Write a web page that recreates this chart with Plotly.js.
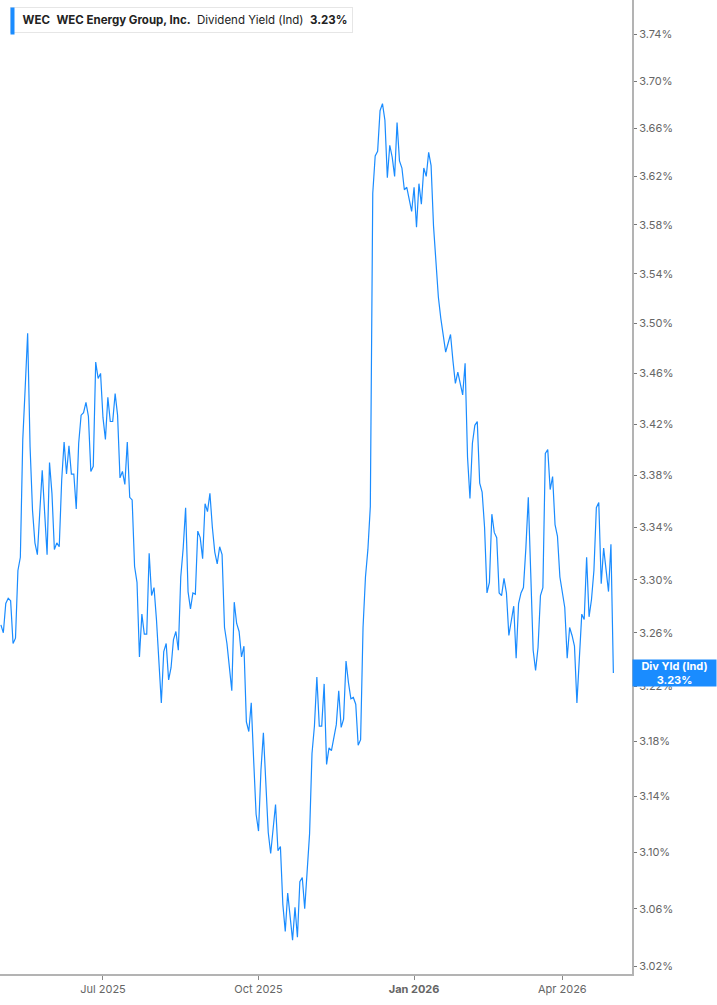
<!DOCTYPE html>
<html>
<head>
<meta charset="utf-8">
<script src="https://cdn.plot.ly/plotly-3.0.1.min.js"></script>
<style>
  html, body { margin: 0; padding: 0; background: #ffffff; }
  #chart { width: 717px; height: 1005px; }
</style>
</head>
<body>
<div id="chart"></div>
<script>
  // WEC dividend yield (indicated), one value per trading day, starting at startDate
  var startDate = "2025-04-30";
  var holidays = [
    "2025-05-26", "2025-06-19", "2025-07-04", "2025-09-01", "2025-11-27",
    "2025-12-25", "2026-01-01", "2026-01-19", "2026-02-16", "2026-04-03"
  ];
  var yieldValues = [
    3.266, 3.260, 3.282, 3.286, 3.284, 3.252, 3.256, 3.307, 3.317, 3.408,
    3.449, 3.492, 3.402, 3.353, 3.328, 3.319, 3.352, 3.384, 3.351, 3.319,
    3.390, 3.366, 3.323, 3.328, 3.325, 3.376, 3.406, 3.381, 3.403, 3.381,
    3.381, 3.354, 3.405, 3.427, 3.429, 3.437, 3.426, 3.383, 3.387, 3.469,
    3.456, 3.460, 3.425, 3.408, 3.441, 3.422, 3.422, 3.444, 3.427, 3.378,
    3.383, 3.373, 3.406, 3.363, 3.361, 3.310, 3.298, 3.242, 3.274, 3.259,
    3.259, 3.320, 3.288, 3.294, 3.270, 3.235, 3.208, 3.246, 3.252, 3.225,
    3.234, 3.255, 3.261, 3.247, 3.302, 3.324, 3.355, 3.291, 3.278, 3.290,
    3.289, 3.337, 3.332, 3.316, 3.358, 3.352, 3.366, 3.340, 3.321, 3.312,
    3.325, 3.319, 3.264, 3.252, 3.235, 3.217, 3.283, 3.267, 3.261, 3.242,
    3.250, 3.194, 3.187, 3.208, 3.166, 3.127, 3.115, 3.159, 3.186, 3.152,
    3.114, 3.099, 3.117, 3.134, 3.101, 3.104, 3.063, 3.044, 3.071, 3.054,
    3.038, 3.061, 3.040, 3.079, 3.082, 3.060, 3.089, 3.113, 3.171, 3.191,
    3.227, 3.191, 3.191, 3.222, 3.163, 3.175, 3.173, 3.183, 3.192, 3.217,
    3.190, 3.196, 3.239, 3.223, 3.211, 3.212, 3.207, 3.177, 3.181, 3.264,
    3.302, 3.323, 3.356, 3.606, 3.637, 3.641, 3.675, 3.681, 3.667, 3.619,
    3.646, 3.636, 3.620, 3.665, 3.633, 3.627, 3.609, 3.611, 3.602, 3.591,
    3.611, 3.578, 3.614, 3.597, 3.627, 3.620, 3.640, 3.629, 3.579, 3.545,
    3.521, 3.504, 3.488, 3.477, 3.484, 3.491, 3.470, 3.452, 3.461, 3.453,
    3.443, 3.468, 3.394, 3.362, 3.405, 3.419, 3.422, 3.374, 3.367, 3.340,
    3.290, 3.298, 3.350, 3.336, 3.332, 3.290, 3.288, 3.301, 3.290, 3.258,
    3.268, 3.280, 3.241, 3.282, 3.290, 3.294, 3.324, 3.363, 3.305, 3.247,
    3.232, 3.249, 3.288, 3.294, 3.397, 3.400, 3.369, 3.379, 3.342, 3.333,
    3.302, 3.291, 3.279, 3.241, 3.264, 3.258, 3.250, 3.208, 3.245, 3.274,
    3.270, 3.317, 3.272, 3.285, 3.307, 3.355, 3.359, 3.297, 3.324, 3.308,
    3.291, 3.327, 3.230
  ];
  var xTickDates = ["2025-07-01", "2025-10-01", "2026-01-02", "2026-04-01"];
  var xTickLabels = ["Jul 2025", "Oct 2025", "<b>Jan 2026</b>", "Apr 2026"];
  var yTickValues = [3.02, 3.06, 3.10, 3.14, 3.18, 3.22, 3.26, 3.30, 3.34,
                     3.38, 3.42, 3.46, 3.50, 3.54, 3.58, 3.62, 3.66, 3.70, 3.74];

  var LINE_BLUE = "#1a8cff";

  // trading days (weekdays that are not market holidays)
  function tradingDays(start, count, skip) {
    var out = [];
    var d = new Date(start + "T00:00:00Z");
    while (out.length < count) {
      var iso = d.toISOString().slice(0, 10);
      var dow = d.getUTCDay();
      if (dow !== 0 && dow !== 6 && skip.indexOf(iso) === -1) out.push(iso);
      d.setUTCDate(d.getUTCDate() + 1);
    }
    return out;
  }

  var dates = tradingDays(startDate, yieldValues.length, holidays);
  var lastValue = yieldValues[yieldValues.length - 1];
  var lastText = lastValue.toFixed(2) + "%";

  var trace = {
    type: "scatter",
    mode: "lines",
    x: dates,
    y: yieldValues,
    line: { color: LINE_BLUE, width: 1.2 },
    hoverinfo: "skip"
  };

  var NB = "\u00a0";
  var headerText = NB + NB + "<b>WEC</b>" + NB + NB + "<b>WEC Energy Group, Inc.</b>" +
    NB + NB + "Dividend Yield (Ind)" + NB + NB + "<b>" + lastText + "</b>";

  // plot area is 632 x 974 px
  var PW = 632, PH = 974;

  var layout = {
    width: 717,
    height: 1005,
    margin: { l: 0, r: 85, t: 0, b: 31 },
    paper_bgcolor: "#ffffff",
    plot_bgcolor: "#ffffff",
    font: { family: "Inter, Roboto, 'Open Sans', sans-serif", color: "#555555", size: 11 },
    showlegend: false,
    xaxis: {
      type: "date",
      range: ["2025-04-29 15:00", "2026-05-12 16:00"],
      rangebreaks: [{ bounds: ["sat", "mon"] }, { values: holidays }],
      tickmode: "array",
      tickvals: xTickDates,
      ticktext: xTickLabels,
      ticks: "outside",
      ticklen: 4,
      tickcolor: "#888888",
      showgrid: false,
      zeroline: false,
      showline: true,
      linecolor: "#b3b3b3",
      linewidth: 1.5,
      tickfont: { size: 11, color: "#666666" },
      fixedrange: true
    },
    yaxis: {
      type: "log",
      side: "right",
      range: [Math.log10(3.01446), Math.log10(3.7696)],
      tickmode: "array",
      tickvals: yTickValues,
      ticktext: yTickValues.map(function (v) { return v.toFixed(2) + "%"; }),
      ticks: "outside",
      ticklen: 3,
      tickcolor: "#777777",
      showgrid: false,
      zeroline: false,
      showline: true,
      linecolor: "#b3b3b3",
      linewidth: 2,
      tickfont: { size: 11, color: "#666666" },
      fixedrange: true
    },
    annotations: [
      {
        xref: "paper", yref: "paper",
        x: 10 / PW, y: 1 - 7 / PH,
        xanchor: "left", yanchor: "top",
        text: headerText,
        showarrow: false,
        align: "left",
        font: { size: 11.5, color: "#222222", family: "Inter, Roboto, sans-serif" },
        bgcolor: "#ffffff",
        bordercolor: "#e6e6e6",
        borderwidth: 1,
        borderpad: 5
      },
      {
        // blue marker at the left edge of the header box
        xref: "paper", yref: "paper",
        x: 10 / PW, y: 1 - 7 / PH,
        xanchor: "left", yanchor: "top",
        text: " ",
        showarrow: false,
        width: 3,
        height: 26,
        bgcolor: LINE_BLUE,
        borderpad: 0
      },
      {
        xref: "paper", yref: "y",
        x: 1, y: Math.log10(lastValue),
        xanchor: "left", yanchor: "middle",
        text: "<b>Div Yld (Ind)<br>" + lastText + "</b>",
        showarrow: false,
        align: "center",
        width: 81,
        height: 24,
        font: { size: 11, color: "#ffffff", family: "Inter, Roboto, sans-serif" },
        bgcolor: LINE_BLUE,
        borderpad: 1
      }
    ]
  };

  Plotly.newPlot("chart", [trace], layout, { displayModeBar: false, staticPlot: true });
</script>
</body>
</html>
